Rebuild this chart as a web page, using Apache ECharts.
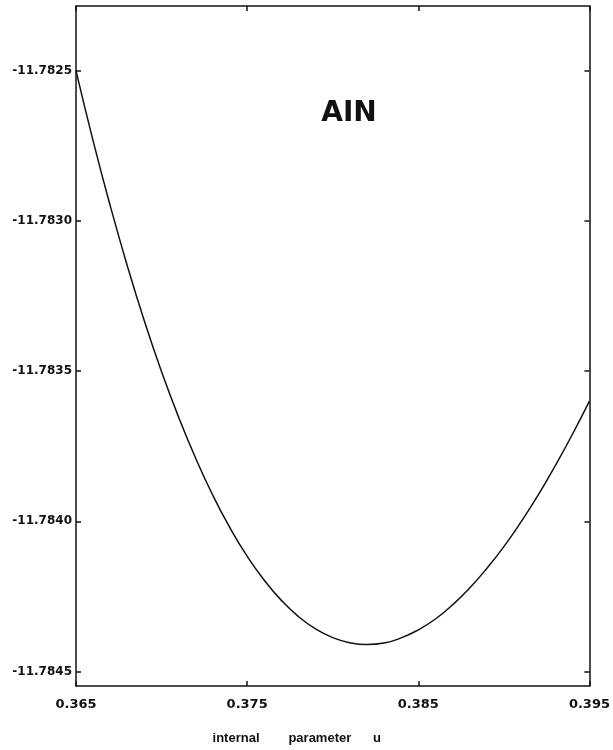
<!DOCTYPE html>
<html>
<head>
<meta charset="utf-8">
<script src="https://cdn.jsdelivr.net/npm/echarts@6/dist/echarts.min.js"></script>
<style>html,body{margin:0;padding:0;background:#fff}#c{width:613px;height:750px}</style>
</head>
<body>
<div id="c"></div>
<script>
const uValues = [0.365,0.366,0.367,0.368,0.369,0.370,0.371,0.372,0.373,0.374,0.375,0.376,0.377,0.378,0.379,0.380,0.381,0.382,0.383,0.384,0.385,0.386,0.387,0.388,0.389,0.390,0.391,0.392,0.393,0.394,0.395];
const energy = [-11.782500,-11.782734,-11.782950,-11.783150,-11.783334,-11.783502,-11.783654,-11.783791,-11.783914,-11.784022,-11.784116,-11.784196,-11.784263,-11.784317,-11.784358,-11.784387,-11.784404,-11.784410,-11.784405,-11.784388,-11.784361,-11.784325,-11.784278,-11.784222,-11.784157,-11.784084,-11.784002,-11.783913,-11.783815,-11.783711,-11.783600];
const xTicks = [0.365,0.375,0.385,0.395];
const yTicks = [-11.7845,-11.7840,-11.7835,-11.7830,-11.7825];
const plotLabel = 'AIN';
const xTitle = 'internal        parameter      u';

const chart = echarts.init(document.getElementById('c'));
const lineStyle = {color:'#111', width:1.5};
const tick = {show:true, inside:true, length:5, lineStyle:{color:'#111', width:1.5}};
chart.setOption({
  animation:false,
  backgroundColor:'#fff',
  grid:{left:76, top:6, width:519, height:681, containLabel:false},
  xAxis:[{
    type:'value', min:0.365, max:0.395, position:'bottom',
    axisLine:{show:true, lineStyle:lineStyle},
    axisTick:Object.assign({customValues:xTicks}, tick),
    splitLine:{show:false},
    axisLabel:{customValues:xTicks, margin:12, color:'#111', fontFamily:'DejaVu Sans', fontWeight:'bold', fontSize:13, formatter:v=>v.toFixed(3)},
    name:xTitle, nameLocation:'middle', nameGap:46,
    nameTextStyle:{color:'#111', fontFamily:'Liberation Sans', fontWeight:'bold', fontSize:13, padding:[0,72,0,0]}
  },{
    type:'value', min:0.365, max:0.395, position:'top',
    axisLine:{show:true, lineStyle:lineStyle},
    axisTick:Object.assign({customValues:xTicks}, tick),
    splitLine:{show:false}, axisLabel:{show:false}
  }],
  yAxis:[{
    type:'value', min:-11.784548, max:-11.782285, position:'left',
    axisLine:{show:true, lineStyle:lineStyle},
    axisTick:Object.assign({customValues:yTicks}, tick),
    splitLine:{show:false},
    axisLabel:{customValues:yTicks, margin:4, color:'#111', fontFamily:'DejaVu Sans', fontWeight:'bold', fontSize:12, formatter:v=>v.toFixed(4)}
  },{
    type:'value', min:-11.784548, max:-11.782285, position:'right',
    axisLine:{show:true, lineStyle:lineStyle},
    axisTick:Object.assign({customValues:yTicks}, tick),
    splitLine:{show:false}, axisLabel:{show:false}
  }],
  graphic:[{
    type:'text', x:349, y:114,
    style:{text:plotLabel, fill:'#111', font:'bold 28px "DejaVu Sans"', textAlign:'center', textVerticalAlign:'middle'}
  }],
  series:[{
    type:'line', xAxisIndex:0, yAxisIndex:0,
    data:uValues.map((u,i)=>[u,energy[i]]),
    smooth:true, showSymbol:false, symbol:'none',
    lineStyle:{color:'#111', width:1.5}
  }]
});
</script>
</body>
</html>
